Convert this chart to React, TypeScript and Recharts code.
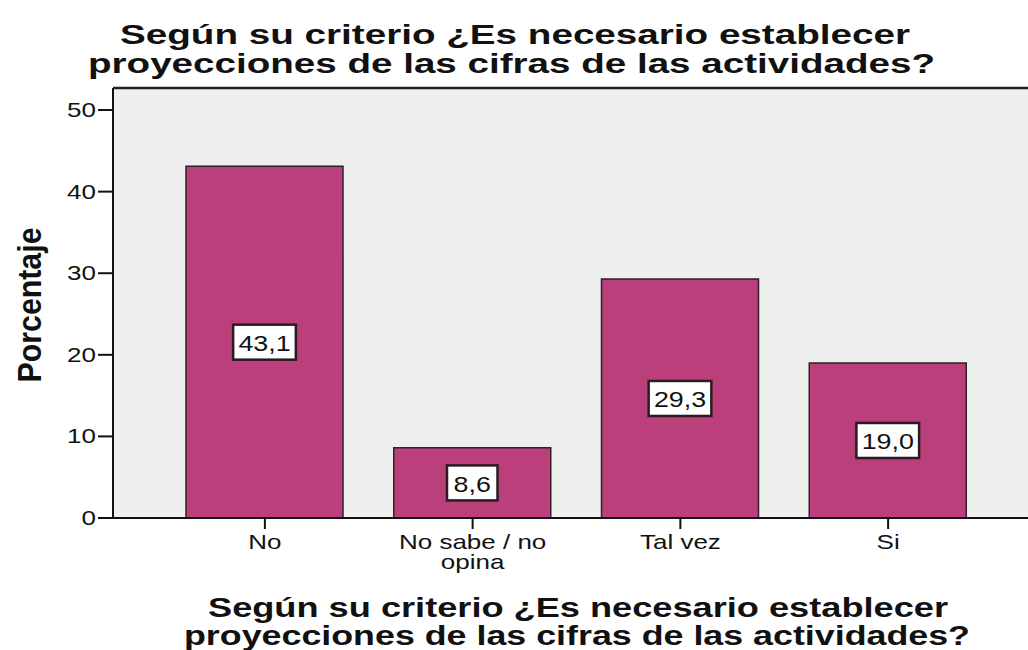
import { BarChart, Bar, XAxis, YAxis, CartesianGrid, ReferenceLine, LabelList } from "recharts";

const categories = ["No", "No sabe / no opina", "Tal vez", "Si"];
const percentages = [43.1, 8.6, 29.3, 19.0];
const yTicks = [0, 10, 20, 30, 40, 50];
const titleLines = ["Según su criterio ¿Es necesario establecer", "proyecciones de las cifras de las actividades?"];
const yLabel = "Porcentaje";

const data = categories.map((c, i) => ({ name: c, value: percentages[i] }));

const FONT = '"Liberation Sans", Arial, sans-serif';
const Y_MAX = 52.7;
const WIDE = 1.3; // the original's small text is stretched sideways

// white boxed value label in the middle of the bar
function ValueBox(props: any) {
  const { x, y, width, height, value } = props;
  const txt = Number(value).toFixed(1).replace(".", ",");
  const w = (txt.length - 1) * 12.2 + 6.1 + 20;
  const h = 35;
  const cx = x + width / 2;
  const cy = y + height / 2;
  return (
    <g>
      <rect x={cx - w / 2} y={cy - h / 2} width={w} height={h} fill="#fff" stroke="#2a1a22" strokeWidth={2.5} />
      <g transform={`translate(${cx} ${cy + 1}) scale(1.22 1)`}>
        <text x={0} y={0} textAnchor="middle" dominantBaseline="central" fontSize={22} fontFamily={FONT} fill="#111">
          {txt}
        </text>
      </g>
    </g>
  );
}

// wrap long category names onto two lines (max ~12 chars per line)
function wrap(s: string, max = 12) {
  const lines: string[] = [];
  let cur = "";
  for (const w of s.split(" ")) {
    const next = cur ? cur + " " + w : w;
    if (next.length > max && cur) {
      lines.push(cur);
      cur = w;
    } else cur = next;
  }
  if (cur) lines.push(cur);
  return lines;
}

function CatTick(props: any) {
  const { x, y, payload } = props;
  const lines = wrap(String(payload.value));
  return (
    <g transform={`translate(${x} ${y + 18}) scale(${WIDE} 1)`}>
      <text x={0} y={0} textAnchor="middle" fontSize={20} fontFamily={FONT} fill="#111">
        {lines.map((l, i) => (
          <tspan key={i} x={0} dy={i === 0 ? 0 : 20}>
            {l}
          </tspan>
        ))}
      </text>
    </g>
  );
}

function ValTick(props: any) {
  const { x, y, payload } = props;
  return (
    <g transform={`translate(${x} ${y}) scale(${WIDE} 1)`}>
      <text x={0} y={0} textAnchor="end" dominantBaseline="central" fontSize={20} fontFamily={FONT} fill="#111">
        {payload.value}
      </text>
    </g>
  );
}

export default function App() {
  return (
    <div style={{ position: "absolute", left: 0, top: 0, width: 1028, height: 650, overflow: "hidden", background: "#fff" }}>
      <BarChart width={1040} height={650} data={data} margin={{ top: 88, right: 0, left: 0, bottom: 72 }}>
        <CartesianGrid horizontal={false} vertical={false} fill="#efefef" />
        <XAxis
          dataKey="name"
          height={60}
          padding={{ left: 48, right: 48 }}
          axisLine={{ stroke: "#111", strokeWidth: 2 }}
          tickLine={{ stroke: "#111", strokeWidth: 2 }}
          tickSize={11}
          tick={<CatTick />}
          interval={0}
        />
        <YAxis
          width={113}
          domain={[0, Y_MAX]}
          ticks={yTicks}
          allowDataOverflow
          axisLine={{ stroke: "#111", strokeWidth: 2 }}
          tickLine={{ stroke: "#111", strokeWidth: 2 }}
          tickSize={15}
          tickMargin={2}
          tick={<ValTick />}
        />
        <ReferenceLine y={Y_MAX} stroke="#222" strokeWidth={2.5} />
        <Bar dataKey="value" fill="#bb3f7b" stroke="#2e2228" strokeWidth={1.5} barSize={157} isAnimationActive={false}>
          <LabelList dataKey="value" content={<ValueBox />} />
        </Bar>
      </BarChart>
      <svg width={1028} height={650} style={{ position: "absolute", left: 0, top: 0, pointerEvents: "none" }}>
        <g fontFamily={FONT} fontWeight="bold" fontSize={27} fill="#111">
          <text x={120} y={44} textLength={790} lengthAdjust="spacingAndGlyphs">{titleLines[0]}</text>
          <text x={88} y={73} textLength={847} lengthAdjust="spacingAndGlyphs">{titleLines[1]}</text>
          <text x={208} y={617} textLength={740} lengthAdjust="spacingAndGlyphs">{titleLines[0]}</text>
          <text x={184} y={645} textLength={786} lengthAdjust="spacingAndGlyphs">{titleLines[1]}</text>
          <text
            x={0}
            y={0}
            fontSize={33}
            textAnchor="middle"
            textLength={155}
            lengthAdjust="spacingAndGlyphs"
            transform="translate(41 305) rotate(-90)"
          >
            {yLabel}
          </text>
        </g>
      </svg>
    </div>
  );
}
